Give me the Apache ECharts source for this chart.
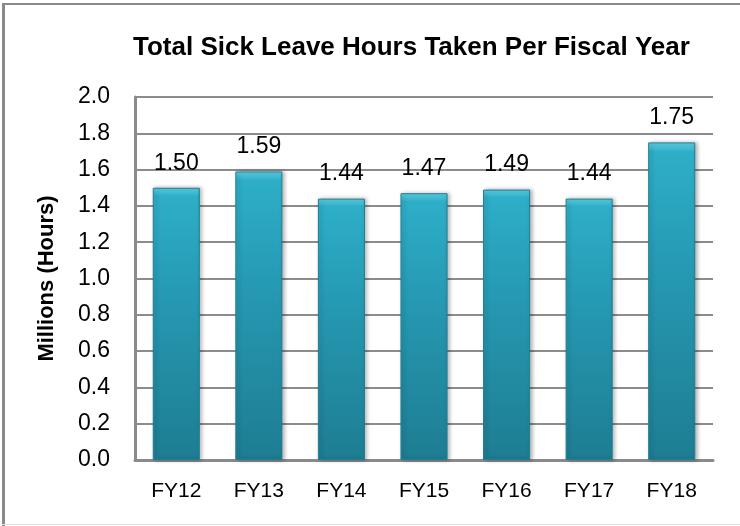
<!DOCTYPE html>
<html>
<head>
<meta charset="utf-8">
<script src="https://cdn.jsdelivr.net/npm/echarts@6/dist/echarts.min.js"></script>
<style>
    html, body { margin: 0; padding: 0; background: #fff; }
    #chart { position: absolute; left: 0; top: 0; width: 740px; height: 526px; }
    .frame { position: absolute; background: #8a8a8a; }
</style>
</head>
<body>
<div id="chart"></div>
<div class="frame" style="left:2px; top:3px; width:3px; height:523px;"></div>
<div class="frame" style="left:2px; top:3px; width:738px; height:2px;"></div>
<div class="frame" style="left:2px; top:524px; width:738px; height:1px; background:#dedede;"></div>
<script>
const categories = ['FY12', 'FY13', 'FY14', 'FY15', 'FY16', 'FY17', 'FY18']
const sickHours = [1.50, 1.59, 1.44, 1.47, 1.49, 1.44, 1.75]
const yTicks = { min: 0, max: 2.0, interval: 0.2 }

const font = '"Liberation Sans", Arial, sans-serif'

const options = {
    animation: false,
    title: {
        text: 'Total Sick Leave Hours Taken Per Fiscal Year',
        left: 128,
        top: 30,
        textStyle: {
            fontFamily: font,
            fontSize: 26,
            fontWeight: 'bold',
            color: '#000'
        }
    },
    grid: {
        left: 135,
        right: 27,
        top: 97,
        bottom: 66
    },
    xAxis: {
        type: 'category',
        data: categories,
        axisLine: { lineStyle: { color: '#8a8a8a', width: 3 } },
        axisTick: { show: false },
        axisLabel: {
            margin: 21,
            fontFamily: font,
            fontSize: 21,
            color: '#000'
        }
    },
    yAxis: {
        type: 'value',
        min: yTicks.min,
        max: yTicks.max,
        interval: yTicks.interval,
        name: 'Millions (Hours)',
        nameLocation: 'middle',
        nameGap: 77,
        nameTextStyle: {
            fontFamily: font,
            fontSize: 22,
            fontWeight: 'bold',
            color: '#000'
        },
        axisLine: { show: true, lineStyle: { color: '#8a8a8a', width: 3 } },
        axisTick: { show: false },
        axisLabel: {
            margin: 25,
            fontFamily: font,
            fontSize: 23,
            color: '#000',
            formatter: v => v.toFixed(1)
        },
        splitLine: { lineStyle: { color: '#8c8c8c', width: 2 } }
    },
    series: [
        {
            name: 'Sick leave hours',
            type: 'bar',
            data: sickHours,
            barCategoryGap: '43%',
            itemStyle: {
                color: new echarts.graphic.LinearGradient(0, 0, 0, 1, [
                    { offset: 0, color: '#5fd0e3' },
                    { offset: 0.03, color: '#2eaec8' },
                    { offset: 0.4, color: '#2699b3' },
                    { offset: 1, color: '#1e7d92' }
                ]),
                borderColor: '#1f7f94',
                borderWidth: 1,
                shadowColor: 'rgba(0,0,0,0.3)',
                shadowBlur: 4,
                shadowOffsetX: 2
            },
            label: {
                show: true,
                position: 'top',
                distance: 13,
                fontFamily: font,
                fontSize: 23,
                color: '#000',
                formatter: p => p.value.toFixed(2)
            }
        }
    ]
}

let chart = echarts.init(document.getElementById('chart'))
chart.setOption(options)
</script>
</body>
</html>
